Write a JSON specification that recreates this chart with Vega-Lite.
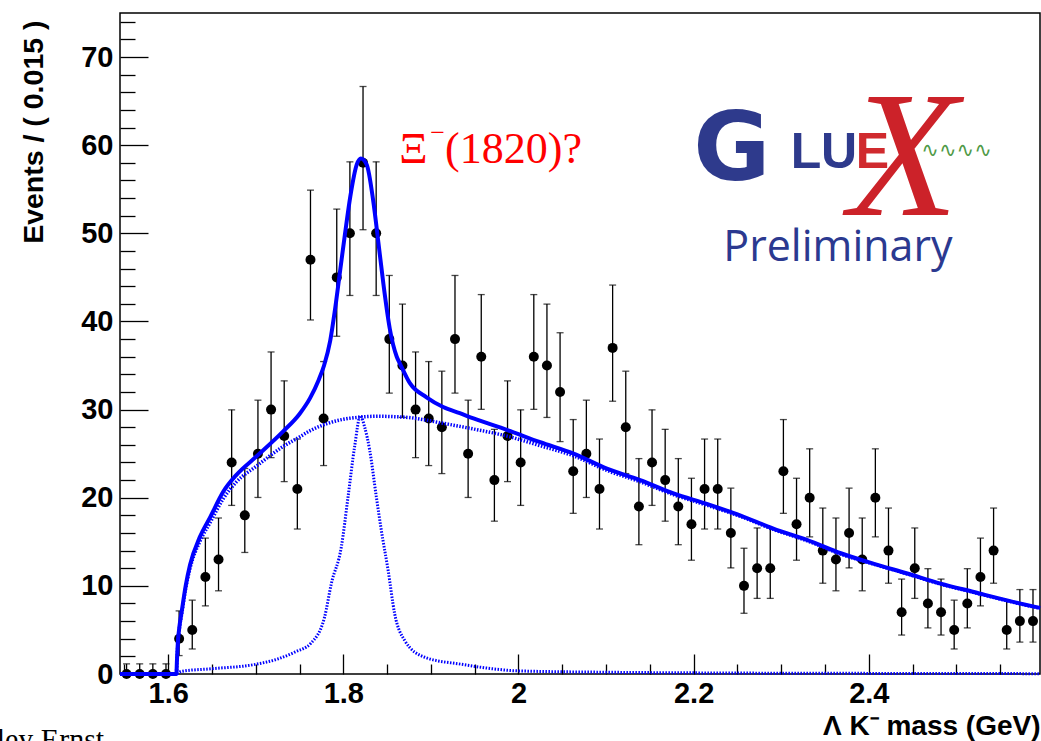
{
"$schema": "https://vega.github.io/schema/vega-lite/v6.json",
"width": 920, "height": 661,
"autosize": "none",
"padding": {"left": 120, "top": 13, "right": 1, "bottom": 67},
"background": "white",
"config": {
  "view": {"stroke": "black", "strokeWidth": 1.5},
  "axis": {"labelFont": "Liberation Sans", "labelFontWeight": "bold", "titleFont": "Liberation Sans", "titleFontWeight": "bold", "labelColor": "black", "titleColor": "black", "tickColor": "black", "tickWidth": 1.3, "domain": false, "grid": false}
},
"datasets": {
  "bins": [
    {"m":1.5525,"n":0,"lo":0,"hi":1.15},{"m":1.5675,"n":0,"lo":0,"hi":1.15},{"m":1.5825,"n":0,"lo":0,"hi":1.15},{"m":1.5975,"n":0,"lo":0,"hi":1.15},
    {"m":1.6125,"n":4,"lo":2.09,"hi":7.16},{"m":1.6275,"n":5,"lo":2.84,"hi":8.38},{"m":1.6425,"n":11,"lo":7.73,"hi":15.42},{"m":1.6575,"n":13,"lo":9.44,"hi":17.70},
    {"m":1.6725,"n":24,"lo":19.13,"hi":29.97},{"m":1.6875,"n":18,"lo":13.79,"hi":23.32},{"m":1.7025,"n":25,"lo":20.03,"hi":31.07},{"m":1.7175,"n":30,"lo":24.55,"hi":36.54},
    {"m":1.7325,"n":27,"lo":21.83,"hi":33.26},{"m":1.7475,"n":21,"lo":16.45,"hi":26.66},{"m":1.7625,"n":47,"lo":40.17,"hi":54.90},{"m":1.7775,"n":29,"lo":23.65,"hi":35.45},
    {"m":1.7925,"n":45,"lo":38.32,"hi":52.75},{"m":1.8075,"n":50,"lo":42.95,"hi":58.11},{"m":1.8225,"n":58,"lo":50.41,"hi":66.66},{"m":1.8375,"n":50,"lo":42.95,"hi":58.11},
    {"m":1.8525,"n":38,"lo":31.87,"hi":45.22},{"m":1.8675,"n":35,"lo":29.11,"hi":41.97},{"m":1.8825,"n":30,"lo":24.55,"hi":36.54},{"m":1.8975,"n":29,"lo":23.65,"hi":35.45},
    {"m":1.9125,"n":28,"lo":22.74,"hi":34.36},{"m":1.9275,"n":38,"lo":31.87,"hi":45.22},{"m":1.9425,"n":25,"lo":20.03,"hi":31.07},{"m":1.9575,"n":36,"lo":30.03,"hi":43.05},
    {"m":1.9725,"n":22,"lo":17.34,"hi":27.76},{"m":1.9875,"n":27,"lo":21.83,"hi":33.26},{"m":2.0025,"n":24,"lo":19.13,"hi":29.97},{"m":2.0175,"n":36,"lo":30.03,"hi":43.05},
    {"m":2.0325,"n":35,"lo":29.11,"hi":41.97},{"m":2.0475,"n":32,"lo":26.37,"hi":38.72},{"m":2.0625,"n":23,"lo":18.23,"hi":28.87},{"m":2.0775,"n":25,"lo":20.03,"hi":31.07},
    {"m":2.0925,"n":21,"lo":16.45,"hi":26.66},{"m":2.1075,"n":37,"lo":30.95,"hi":44.13},{"m":2.1225,"n":28,"lo":22.74,"hi":34.36},{"m":2.1375,"n":19,"lo":14.67,"hi":24.44},
    {"m":2.1525,"n":24,"lo":19.13,"hi":29.97},{"m":2.1675,"n":22,"lo":17.34,"hi":27.76},{"m":2.1825,"n":19,"lo":14.67,"hi":24.44},{"m":2.1975,"n":17,"lo":12.91,"hi":22.21},
    {"m":2.2125,"n":21,"lo":16.45,"hi":26.66},{"m":2.2275,"n":21,"lo":16.45,"hi":26.66},{"m":2.2425,"n":16,"lo":12.04,"hi":21.09},{"m":2.2575,"n":10,"lo":6.89,"hi":14.27},
    {"m":2.2725,"n":12,"lo":8.58,"hi":16.57},{"m":2.2875,"n":12,"lo":8.58,"hi":16.57},{"m":2.3025,"n":23,"lo":18.23,"hi":28.87},{"m":2.3175,"n":17,"lo":12.91,"hi":22.21},
    {"m":2.3325,"n":20,"lo":15.56,"hi":25.55},{"m":2.3475,"n":14,"lo":10.30,"hi":18.83},{"m":2.3625,"n":13,"lo":9.44,"hi":17.70},{"m":2.3775,"n":16,"lo":12.04,"hi":21.09},
    {"m":2.3925,"n":13,"lo":9.44,"hi":17.70},{"m":2.4075,"n":20,"lo":15.56,"hi":25.55},{"m":2.4225,"n":14,"lo":10.30,"hi":18.83},{"m":2.4375,"n":7,"lo":4.42,"hi":10.77},
    {"m":2.4525,"n":12,"lo":8.58,"hi":16.57},{"m":2.4675,"n":8,"lo":5.23,"hi":11.95},{"m":2.4825,"n":7,"lo":4.42,"hi":10.77},{"m":2.4975,"n":5,"lo":2.84,"hi":8.38},
    {"m":2.5125,"n":8,"lo":5.23,"hi":11.95},{"m":2.5275,"n":11,"lo":7.73,"hi":15.42},{"m":2.5425,"n":14,"lo":10.30,"hi":18.83},{"m":2.5575,"n":5,"lo":2.84,"hi":8.38},
    {"m":2.5725,"n":6,"lo":3.62,"hi":9.58},{"m":2.5875,"n":6,"lo":3.62,"hi":9.58}
  ],
  "tot": [
    {"m":1.545,"v":0},{"m":1.6094,"v":0},{"m":1.610,"v":1.5},{"m":1.611,"v":3.5},{"m":1.613,"v":5.5},{"m":1.6153,"v":7.0},{"m":1.620,"v":10.0},{"m":1.625,"v":12.4},
    {"m":1.636,"v":15.5},{"m":1.648,"v":17.8},{"m":1.663,"v":20.7},{"m":1.678,"v":22.6},{"m":1.701,"v":24.7},{"m":1.731,"v":27.5},{"m":1.750,"v":29.5},{"m":1.762,"v":31.3},
    {"m":1.772,"v":33.4},{"m":1.778,"v":35.0},{"m":1.785,"v":37.8},{"m":1.790,"v":41.0},{"m":1.796,"v":45.5},{"m":1.802,"v":50.0},{"m":1.808,"v":54.2},{"m":1.8153,"v":57.8},
    {"m":1.820,"v":58.5},{"m":1.8267,"v":57.8},{"m":1.834,"v":53.8},{"m":1.840,"v":49.0},{"m":1.8457,"v":44.3},{"m":1.853,"v":39.2},{"m":1.861,"v":36.0},{"m":1.8648,"v":35.2},
    {"m":1.876,"v":33.0},{"m":1.895,"v":31.4},{"m":1.914,"v":30.3},{"m":1.933,"v":29.6},{"m":1.9486,"v":29.0},{"m":1.9867,"v":27.7},{"m":2.0248,"v":26.3},{"m":2.0629,"v":25.0},
    {"m":2.101,"v":23.3},{"m":2.139,"v":22.0},{"m":2.177,"v":20.5},{"m":2.215,"v":19.3},{"m":2.253,"v":18.0},{"m":2.291,"v":16.5},{"m":2.330,"v":15.2},{"m":2.368,"v":13.7},
    {"m":2.406,"v":12.5},{"m":2.444,"v":11.4},{"m":2.482,"v":10.25},{"m":2.520,"v":9.3},{"m":2.558,"v":8.35},{"m":2.5955,"v":7.5}
  ],
  "bkg": [
    {"m":1.545,"v":0},{"m":1.6094,"v":0},{"m":1.610,"v":1.5},{"m":1.611,"v":3.3},{"m":1.613,"v":5.3},{"m":1.6153,"v":6.7},{"m":1.620,"v":9.7},{"m":1.625,"v":12.0},
    {"m":1.636,"v":15.0},{"m":1.648,"v":17.2},{"m":1.663,"v":19.9},{"m":1.678,"v":21.8},{"m":1.701,"v":23.6},{"m":1.731,"v":25.8},{"m":1.750,"v":26.9},{"m":1.762,"v":27.6},
    {"m":1.781,"v":28.4},{"m":1.800,"v":28.9},{"m":1.820,"v":29.15},{"m":1.840,"v":29.25},{"m":1.857,"v":29.2},{"m":1.875,"v":29.1},{"m":1.895,"v":28.8},{"m":1.911,"v":28.5},
    {"m":1.933,"v":28.1},{"m":1.9486,"v":27.8},{"m":1.9867,"v":27.0},{"m":2.0248,"v":25.9},{"m":2.0629,"v":24.75},{"m":2.101,"v":23.1},{"m":2.139,"v":21.8},{"m":2.177,"v":20.35},
    {"m":2.215,"v":19.15},{"m":2.253,"v":17.9},{"m":2.291,"v":16.4},{"m":2.330,"v":15.1},{"m":2.368,"v":13.6},{"m":2.406,"v":12.45},{"m":2.444,"v":11.35},{"m":2.482,"v":10.2},
    {"m":2.520,"v":9.25},{"m":2.558,"v":8.3},{"m":2.5955,"v":7.45}
  ],
  "sig": [
    {"m":1.545,"v":0},{"m":1.6094,"v":0},{"m":1.615,"v":0.3},{"m":1.65,"v":0.6},{"m":1.70,"v":1.1},{"m":1.725,"v":1.7},{"m":1.745,"v":2.5},{"m":1.763,"v":3.5},
    {"m":1.7786,"v":6.45},{"m":1.7863,"v":10.25},{"m":1.7977,"v":14.4},{"m":1.8054,"v":20.1},{"m":1.8129,"v":25.8},{"m":1.8195,"v":29.3},{"m":1.8244,"v":28.0},{"m":1.8301,"v":25.4},
    {"m":1.8377,"v":20.1},{"m":1.8434,"v":16.3},{"m":1.8511,"v":11.8},{"m":1.8586,"v":6.85},{"m":1.8701,"v":3.8},{"m":1.8929,"v":1.9},{"m":1.935,"v":1.1},{"m":1.97,"v":0.6},
    {"m":2.0,"v":0.35},{"m":2.1,"v":0.2},{"m":2.22,"v":0.12},{"m":2.4,"v":0.07},{"m":2.5955,"v":0.04}
  ]
},
"layer": [
  {
    "data": {"name": "bins"},
    "mark": {"type": "errorbar", "ticks": {"size": 7, "thickness": 1.3}, "thickness": 1.3, "color": "black"},
    "encoding": {
      "x": {"field": "m", "type": "quantitative", "title": "Λ K⁻ mass (GeV)",
        "scale": {"domain": [1.545, 2.5955], "nice": false, "zero": false},
        "axis": {"titleFontSize": 28, "titleAnchor": "end", "titlePadding": -6,
          "values": [1.55,1.6,1.65,1.7,1.75,1.8,1.85,1.9,1.95,2.0,2.05,2.1,2.15,2.2,2.25,2.3,2.35,2.4,2.45,2.5,2.55],
          "tickCount": 40,
          "labelExpr": "abs(datum.value*5 - round(datum.value*5)) < 0.001 ? format(datum.value, '.1~f') : ''",
          "labelFontSize": 29, "labelOverlap": false, "labelFlush": false, "labelBound": false, "labelPadding": 25,
          "tickSize": {"condition": {"test": "abs(datum.value*5 - round(datum.value*5)) < 0.001", "value": -20}, "value": -10}}},
      "y": {"field": "lo", "type": "quantitative", "title": "Events / ( 0.015 )",
        "scale": {"domain": [0, 75], "nice": false},
        "axis": {"titleFontSize": 28.5, "titleAnchor": "end", "titlePadding": 32, "titleY": 7,
          "values": [0,2,4,6,8,10,12,14,16,18,20,22,24,26,28,30,32,34,36,38,40,42,44,46,48,50,52,54,56,58,60,62,64,66,68,70,72,74],
          "tickCount": 60,
          "labelExpr": "datum.value % 10 == 0 ? datum.label : ''",
          "labelFontSize": 29, "labelOverlap": false, "labelFlush": false, "labelBound": false, "labelPadding": 35,
          "tickSize": {"condition": {"test": "datum.value % 10 == 0", "value": -28}, "value": -15}}},
      "y2": {"field": "hi"}
    }
  },
  {
    "data": {"name": "bins"},
    "mark": {"type": "errorbar", "ticks": {"size": 5, "thickness": 1.3}, "thickness": 1.3, "color": "black"},
    "encoding": {
      "x": {"field": "m", "type": "quantitative", "title": "Λ K⁻ mass (GeV)"},
      "xError": {"value": 0.0075},
      "y": {"field": "n", "type": "quantitative", "title": "Events / ( 0.015 )"}
    }
  },
  {
    "data": {"name": "bins"},
    "mark": {"type": "point", "filled": true, "shape": "circle", "size": 100, "color": "black", "opacity": 1},
    "encoding": {"x": {"field": "m", "type": "quantitative", "title": "Λ K⁻ mass (GeV)"}, "y": {"field": "n", "type": "quantitative", "title": "Events / ( 0.015 )"}}
  },
  {
    "data": {"name": "bkg"},
    "mark": {"type": "line", "color": "#0000ff", "strokeWidth": 3.5, "strokeDash": [1.5, 1.5], "interpolate": "monotone"},
    "encoding": {"x": {"field": "m", "type": "quantitative", "title": "Λ K⁻ mass (GeV)"}, "y": {"field": "v", "type": "quantitative", "title": "Events / ( 0.015 )"}}
  },
  {
    "data": {"name": "sig"},
    "mark": {"type": "line", "color": "#0000ff", "strokeWidth": 3, "strokeDash": [1.5, 1.5], "interpolate": "monotone"},
    "encoding": {"x": {"field": "m", "type": "quantitative", "title": "Λ K⁻ mass (GeV)"}, "y": {"field": "v", "type": "quantitative", "title": "Events / ( 0.015 )"}}
  },
  {
    "data": {"name": "tot"},
    "mark": {"type": "line", "color": "#0000ff", "strokeWidth": 4, "interpolate": "monotone"},
    "encoding": {"x": {"field": "m", "type": "quantitative", "title": "Λ K⁻ mass (GeV)"}, "y": {"field": "v", "type": "quantitative", "title": "Events / ( 0.015 )"}}
  },
  {
    "data": {"values": [{"t": "Ξ"}]},
    "mark": {"type": "text", "font": "Liberation Serif", "fontSize": 44, "color": "#ff0000", "align": "left", "baseline": "alphabetic"},
    "encoding": {"x": {"datum": 1.864}, "y": {"datum": 58.0}, "text": {"field": "t"}}
  },
  {
    "data": {"values": [{"t": "−"}]},
    "mark": {"type": "text", "font": "Liberation Serif", "fontSize": 26, "color": "#ff0000", "align": "center", "baseline": "middle"},
    "encoding": {"x": {"datum": 1.9077}, "y": {"datum": 61.4}, "text": {"field": "t"}}
  },
  {
    "data": {"values": [{"t": "(1820)?"}]},
    "mark": {"type": "text", "font": "Liberation Serif", "fontSize": 44, "color": "#ff0000", "align": "left", "baseline": "alphabetic"},
    "encoding": {"x": {"datum": 1.9162}, "y": {"datum": 58.0}, "text": {"field": "t"}}
  },
  {
    "data": {"values": [{"t": "X"}]},
    "mark": {"type": "text", "font": "Liberation Serif", "fontStyle": "italic", "fontSize": 180, "color": "#cc2229", "align": "center", "baseline": "alphabetic"},
    "encoding": {"x": {"datum": 2.4397}, "y": {"datum": 52.1}, "text": {"field": "t"}}
  },
  {
    "data": {"values": [{"t": "G"}]},
    "mark": {"type": "text", "font": "DejaVu Sans", "fontWeight": "bold", "fontSize": 94, "color": "#2e3a8c", "align": "center", "baseline": "alphabetic"},
    "encoding": {"x": {"datum": 2.2437}, "y": {"datum": 56.1}, "text": {"field": "t"}}
  },
  {
    "data": {"values": [{"t": "L", "x": 2.3282, "c": "b"}, {"t": "U", "x": 2.3659, "c": "b"}, {"t": "E", "x": 2.4042, "c": "r"}]},
    "mark": {"type": "text", "font": "Liberation Sans", "fontWeight": "bold", "fontSize": 50, "align": "center", "baseline": "alphabetic"},
    "encoding": {"x": {"field": "x", "type": "quantitative", "title": "Λ K⁻ mass (GeV)"}, "y": {"datum": 57.44}, "text": {"field": "t"},
      "color": {"field": "c", "type": "nominal", "scale": {"domain": ["b", "r"], "range": ["#2e3a8c", "#d02a2e"]}, "legend": null}}
  },
  {
    "data": {"values": [{"t": "∿∿∿∿"}]},
    "mark": {"type": "text", "font": "DejaVu Sans", "fontSize": 21, "color": "#4f9a47", "align": "center", "baseline": "middle"},
    "encoding": {"x": {"datum": 2.5002}, "y": {"datum": 59.3}, "text": {"field": "t"}}
  },
  {
    "data": {"values": [{"t": "Preliminary"}]},
    "mark": {"type": "text", "font": "Open Sans", "fontSize": 43, "color": "#2b3990", "align": "center", "baseline": "alphabetic"},
    "encoding": {"x": {"datum": 2.3648}, "y": {"datum": 46.9}, "text": {"field": "t"}}
  },
  {
    "data": {"values": [{"t": "ley Ernst"}]},
    "mark": {"type": "text", "font": "Liberation Serif", "fontSize": 30, "color": "black", "align": "left", "baseline": "alphabetic"},
    "encoding": {"x": {"datum": 1.4042}, "y": {"datum": -8.47}, "text": {"field": "t"}}
  }
]
}
